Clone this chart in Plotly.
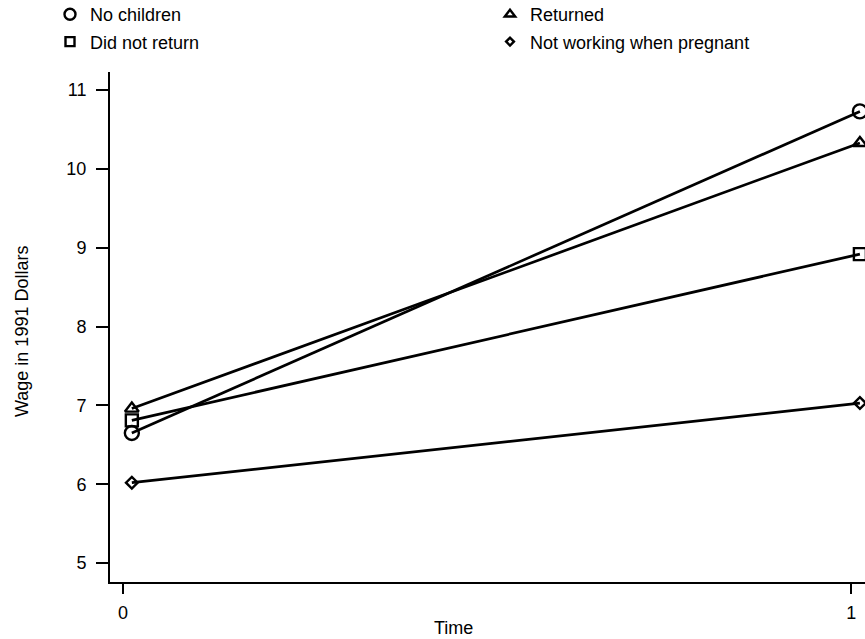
import plotly.graph_objects as go

time = [0.012, 1.012]
series_names = ["No children", "Returned", "Did not return", "Not working when pregnant"]
no_children = [6.65, 10.73]
returned = [6.96, 10.33]
did_not_return = [6.81, 8.92]
not_working = [6.02, 7.03]
y_ticks = [5, 6, 7, 8, 9, 10, 11]
x_ticks = [0, 1]

symbols = ["circle-open", "triangle-up-open", "square-open", "diamond-open"]
sizes = [14, 12, 12, 9]
legend_ids = ["legend", "legend2", "legend", "legend2"]
values = [no_children, returned, did_not_return, not_working]

fig = go.Figure()
for name, vals, sym, sz in zip(series_names, values, symbols, sizes):
    fig.add_trace(go.Scatter(
        x=time, y=vals, name=name, mode="lines+markers", showlegend=False,
        line=dict(color="black", width=2.7),
        marker=dict(symbol=sym, size=sz, color="black", line=dict(width=2.4, color="black")),
        cliponaxis=False,
    ))
# legend keys (markers only, like the reference)
for name, sym, sz, lg in zip(series_names, symbols, sizes, legend_ids):
    fig.add_trace(go.Scatter(
        x=[None], y=[None], name=name, mode="markers", legend=lg, legendgroup=name,
        marker=dict(symbol=sym, size=sz - 3, color="black", line=dict(width=2.4, color="black")),
    ))

font = "Liberation Sans, Arial, Helvetica, sans-serif"
FS = 18
PLOT_W, PLOT_H, L, T = 755, 510, 110, 72
legend_common = dict(orientation="v", xref="paper", yref="paper",
                     yanchor="top", xanchor="left", font=dict(size=FS),
                     tracegroupgap=1, bgcolor="rgba(0,0,0,0)", itemwidth=30)
fig.update_layout(
    width=865, height=639,
    margin=dict(l=L, r=0, t=T, b=57, autoexpand=False),
    paper_bgcolor="white", plot_bgcolor="white",
    font=dict(family=font, size=FS, color="black"),
    showlegend=True,
    legend=dict(x=(50 - L) / PLOT_W, y=1 + (T + 4) / PLOT_H, **legend_common),
    legend2=dict(x=(490 - L) / PLOT_W, y=1 + (T + 4) / PLOT_H, **legend_common),
    xaxis=dict(range=[-0.018, 1.019], tickvals=x_ticks, ticktext=[str(t) for t in x_ticks],
               showgrid=False, zeroline=False, showline=True, linecolor="black", linewidth=2,
               ticks="outside", ticklen=10, tickwidth=2, tickcolor="black",
               ticklabelstandoff=3),
    yaxis=dict(range=[4.76, 11.23], tickvals=y_ticks,
               showgrid=False, zeroline=False, showline=True, linecolor="black", linewidth=2,
               ticks="outside", ticklen=12, tickwidth=2, tickcolor="black",
               ticklabelstandoff=6),
    annotations=[
        dict(text="Time", xref="paper", yref="paper", x=(453 - L) / PLOT_W,
             y=-(628 - 582) / PLOT_H, xanchor="center", yanchor="middle",
             showarrow=False, font=dict(size=FS)),
        dict(text="Wage in 1991 Dollars", xref="paper", yref="paper", x=(22 - L) / PLOT_W,
             y=(582 - 332) / PLOT_H, xanchor="center", yanchor="middle", textangle=-90,
             showarrow=False, font=dict(size=FS)),
    ],
)
fig.write_html("out.html", config={"displayModeBar": False},
               post_script="document.body.style.margin='0';")
